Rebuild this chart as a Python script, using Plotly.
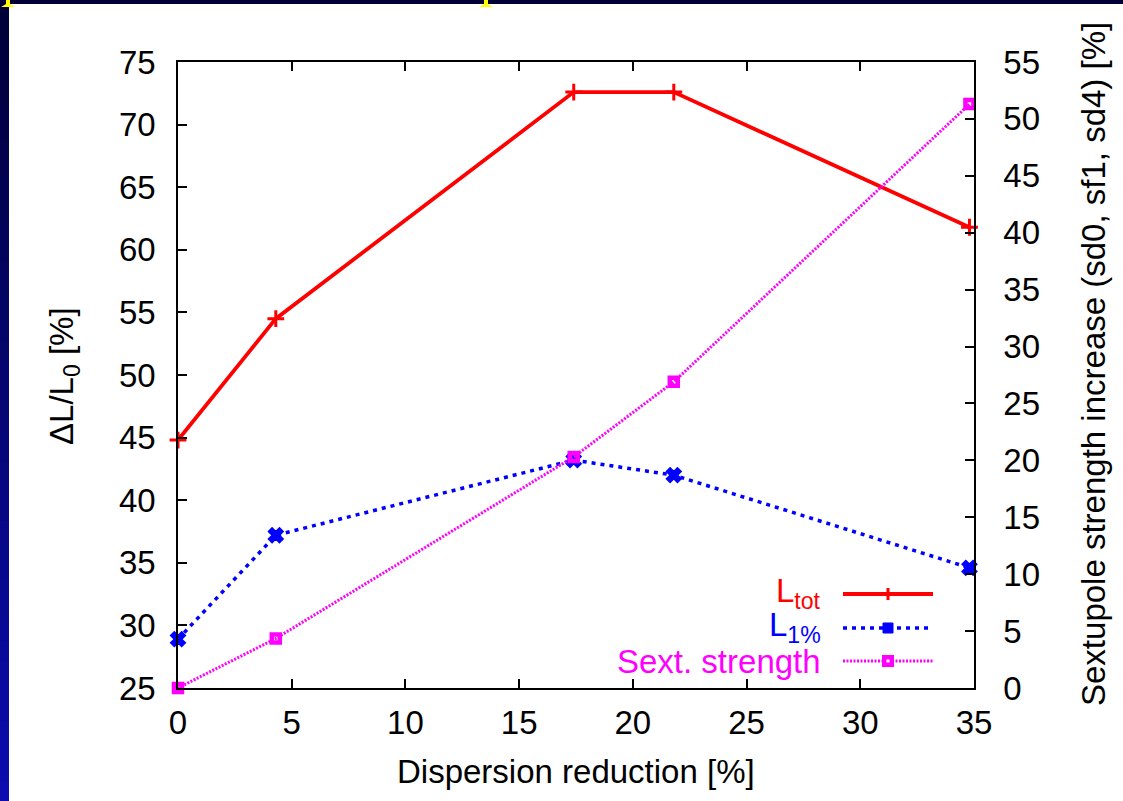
import plotly.graph_objects as go

# ---- data ----
disp_red = [0, 4.3, 17.4, 21.8, 34.8]
l_tot = [44.8, 54.5, 72.6, 72.6, 61.8]
l_1pc = [28.9, 37.2, 43.2, 42.0, 34.6]
sext_strength = [0, 4.35, 20.3, 26.9, 51.3]

y_ticks = list(range(25, 80, 5))
y2_ticks = list(range(0, 60, 5))
x_ticks = list(range(0, 40, 5))

W, H = 1123, 801
L, R, T, B = 178, 974, 62, 688


def px(x):
    return (x - L) / (R - L)


def py(y):
    return (B - y) / (B - T)


FONT = "Liberation Sans, Arial, Helvetica, sans-serif"
FS = 33
RED, BLUE, MAG = "#ff0000", "#0000ff", "#ff00ff"

fig = go.Figure()
fig.add_trace(go.Scatter(
    x=disp_red, y=l_tot, mode="lines+markers", cliponaxis=False,
    line=dict(color=RED, width=3.8),
    marker=dict(symbol="cross-thin-open", size=12, line=dict(color=RED, width=3)),
    showlegend=False))
fig.add_trace(go.Scatter(
    x=disp_red, y=l_1pc, mode="lines+markers", cliponaxis=False,
    line=dict(color=BLUE, width=3.5, dash="4px,5px"),
    marker=dict(symbol="x", size=13, color=BLUE, line=dict(color=BLUE, width=1.5)),
    showlegend=False))
fig.add_trace(go.Scatter(
    x=disp_red, y=sext_strength, yaxis="y2", mode="lines+markers", cliponaxis=False,
    line=dict(color=MAG, width=3, dash="2px,1.5px"),
    marker=dict(symbol="square-open", size=8, color=MAG, line=dict(color=MAG, width=4.5)),
    showlegend=False))

axis_common = dict(showline=True, linecolor="black", linewidth=1.5, ticks="inside",
                   ticklen=9, tickwidth=1.5, tickcolor="black", showgrid=False,
                   zeroline=False, tickfont=dict(family=FONT, size=FS, color="black"))

fig.update_layout(
    width=W, height=H,
    margin=dict(l=L, r=W - R, t=T, b=H - B, pad=0),
    paper_bgcolor="white", plot_bgcolor="white",
    font=dict(family=FONT, size=FS, color="black"),
    xaxis=dict(range=[0, 35], tickvals=x_ticks, mirror="ticks", ticklabelstandoff=5,
               **axis_common),
    yaxis=dict(range=[25, 75], tickvals=y_ticks, mirror=True, ticklabelstandoff=14,
               **axis_common),
    yaxis2=dict(range=[0, 55], tickvals=y2_ticks, overlaying="y", side="right",
                ticklabelstandoff=21, **axis_common),
)

ann = []
ann.append(dict(text="Dispersion reduction [%]", x=px(576), y=py(771), xref="paper", yref="paper",
                showarrow=False, xanchor="center", yanchor="middle", font=dict(size=FS)))
ann.append(dict(text="ΔL/L<sub>0</sub> [%]", x=px(64), y=py(376), xref="paper", yref="paper",
                showarrow=False, xanchor="center", yanchor="middle", textangle=-90,
                font=dict(size=FS)))
ann.append(dict(text="Sextupole strength increase (sd0, sf1, sd4) [%]", x=px(1093), y=py(364),
                xref="paper", yref="paper", showarrow=False, xanchor="center",
                yanchor="middle", textangle=-90, font=dict(size=FS)))

# legend (gnuplot style: text right-aligned, sample to the right)
leg_rows = [("L<sub>tot</sub>", RED, 593), ("L<sub>1%</sub>", BLUE, 627),
            ("Sext. strength", MAG, 661)]
for txt, col, yy in leg_rows:
    ann.append(dict(text=txt, x=px(823), y=py(yy), xref="paper", yref="paper",
                    showarrow=False, xanchor="right", yanchor="middle",
                    font=dict(size=FS, color=col)))

shapes = []
# legend samples
shapes.append(dict(type="line", xref="paper", yref="paper", x0=px(843), x1=px(933),
                   y0=py(594), y1=py(594), line=dict(color=RED, width=3.8)))
shapes.append(dict(type="line", xref="paper", yref="paper", x0=px(843), x1=px(933),
                   y0=py(628), y1=py(628), line=dict(color=BLUE, width=3.5, dash="4px,5px")))
shapes.append(dict(type="line", xref="paper", yref="paper", x0=px(843), x1=px(933),
                   y0=py(661), y1=py(661), line=dict(color=MAG, width=3, dash="2px,1.5px")))
# legend markers
shapes.append(dict(type="line", xref="paper", yref="paper", x0=px(882), x1=px(894),
                   y0=py(594), y1=py(594), line=dict(color=RED, width=3)))
shapes.append(dict(type="line", xref="paper", yref="paper", x0=px(888), x1=px(888),
                   y0=py(588), y1=py(600), line=dict(color=RED, width=3)))
shapes.append(dict(type="rect", xref="paper", yref="paper", x0=px(883), x1=px(893),
                   y0=py(623), y1=py(633), fillcolor=BLUE, line=dict(color=BLUE, width=1)))
shapes.append(dict(type="rect", xref="paper", yref="paper", x0=px(882), x1=px(894),
                   y0=py(655), y1=py(667), fillcolor=MAG, line=dict(width=0)))
shapes.append(dict(type="rect", xref="paper", yref="paper", x0=px(886.5), x1=px(889.5),
                   y0=py(659.5), y1=py(662.5), fillcolor="white", line=dict(width=0)))

# slide frame: top strip and left gradient strip
shapes.append(dict(type="rect", xref="paper", yref="paper", x0=px(0), x1=px(W),
                   y0=py(0), y1=py(4), fillcolor="#000033", line=dict(width=0), layer="above"))
n = 40
for i in range(n):
    t = i / (n - 1)
    r = int(0 + t * 12)
    g = int(0 + t * 12)
    b = int(0x38 + t * (0xb0 - 0x38))
    shapes.append(dict(type="rect", xref="paper", yref="paper", x0=px(0), x1=px(9),
                       y0=py(H * i / n), y1=py(H * (i + 1) / n + 1),
                       fillcolor=f"rgb({r},{g},{b})", line=dict(width=0), layer="above"))
for cx in (8, 486):
    path = (f"M {px(cx-2)},{py(0)} L {px(cx+2)},{py(0)} L {px(cx+2)},{py(4)} "
            f"L {px(cx+7)},{py(7)} L {px(cx-7)},{py(7)} L {px(cx-2)},{py(4)} Z")
    shapes.append(dict(type="path", xref="paper", yref="paper", path=path,
                       fillcolor="#ffff00", line=dict(width=0), layer="above"))

fig.update_layout(annotations=ann, shapes=shapes)
fig.write_html("out.html", config={"displayModeBar": False},
               post_script="document.body.style.margin='0px';document.body.style.overflow='hidden';")
